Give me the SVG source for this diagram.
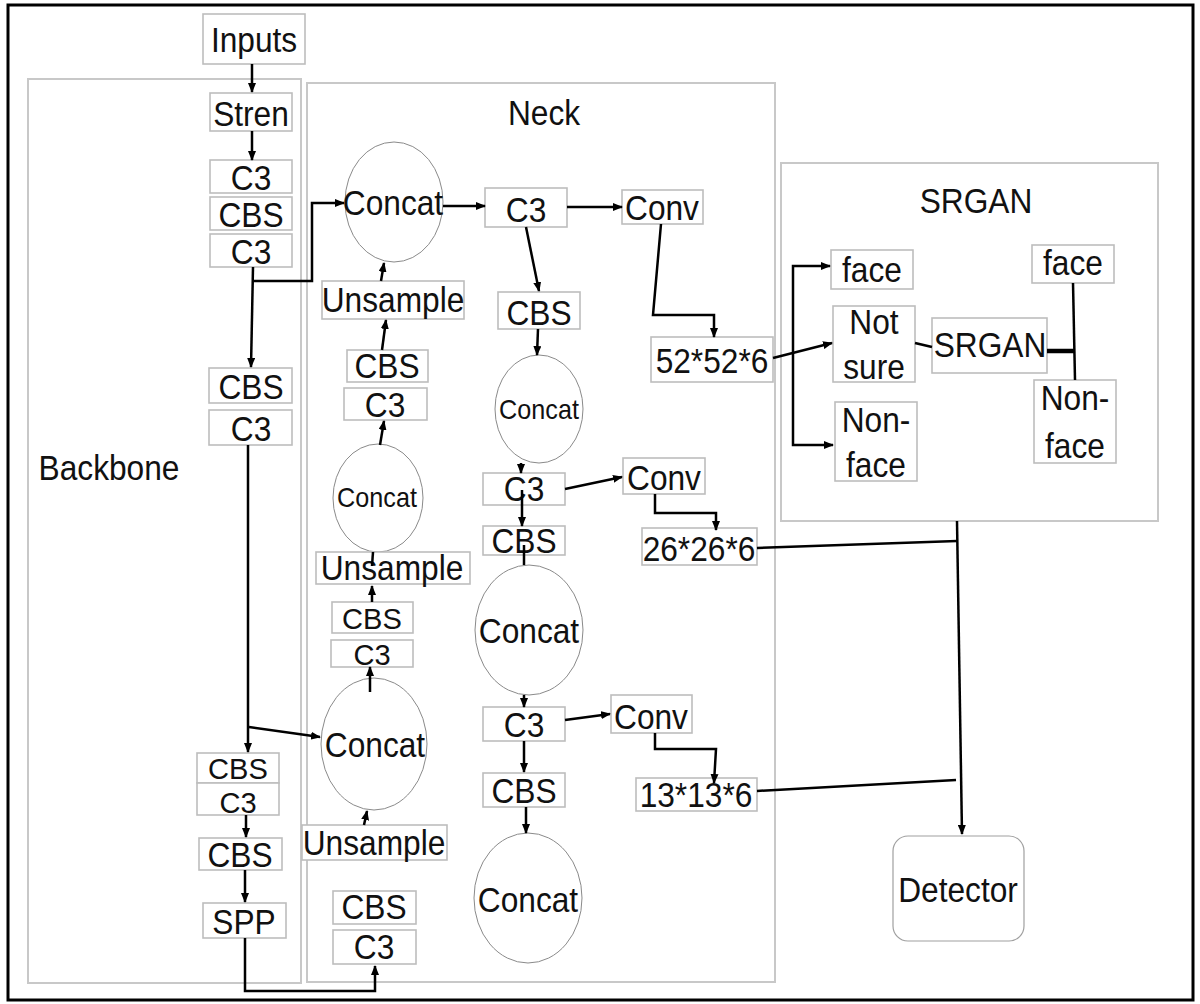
<svg xmlns="http://www.w3.org/2000/svg" width="1200" height="1004" viewBox="0 0 1200 1004">
<style>
  .bg{fill:#ffffff}
  .frame{fill:none;stroke:#000;stroke-width:3}
  .panel{fill:#fff;stroke:#c8c8c8;stroke-width:2}
  .box{fill:#fff;stroke:#bdbdbd;stroke-width:1.6}
  .ell{fill:#fff;stroke:#8a8a8a;stroke-width:1}
  .det{fill:#fff;stroke:#a0a0a0;stroke-width:1.2}
  .t{font-family:"Liberation Sans",Arial,sans-serif;font-size:36px;fill:#111;text-anchor:middle}
  .tm{font-family:"Liberation Sans",Arial,sans-serif;font-size:30px;fill:#111;text-anchor:middle}
  .ts{font-family:"Liberation Sans",Arial,sans-serif;font-size:28px;fill:#111;text-anchor:middle}
  .c{fill:none;stroke:#000;stroke-width:2.5}
  .ca{fill:none;stroke:#000;stroke-width:2.5;marker-end:url(#ah)}
</style>
<defs>
  <marker id="ah" markerWidth="10" markerHeight="8" refX="9" refY="4" orient="auto" markerUnits="userSpaceOnUse">
    <path d="M0,0 L10,4 L0,8 z" fill="#000"/>
  </marker>
</defs>
<rect class="bg" x="0" y="0" width="1200" height="1004"/>
<rect class="frame" x="8" y="5" width="1185" height="995"/>

<g id="backbone-panel"><rect class="panel" x="28" y="79" width="273" height="904"/>
  <text class="t" transform="translate(109,480) scale(0.88,1)">Backbone</text></g>
<g id="neck-panel"><rect class="panel" x="307" y="83" width="468" height="899"/>
  <text class="t" transform="translate(544,125) scale(0.88,1)">Neck</text></g>
<g id="srgan-panel"><rect class="panel" x="781" y="163" width="377" height="358"/>
  <text class="t" transform="translate(976,213) scale(0.88,1)">SRGAN</text></g>

<!-- Backbone nodes -->
<g id="inputs"><rect class="box" x="203" y="14" width="102" height="50"/><text class="t" transform="translate(254,52) scale(0.88,1)">Inputs</text></g>
<g id="stren"><rect class="box" x="210" y="93" width="82" height="38"/><text class="t" transform="translate(251,126) scale(0.88,1)">Stren</text></g>
<g id="bb-c3-1"><rect class="box" x="210" y="160" width="82" height="33"/><text class="t" transform="translate(251,190) scale(0.88,1)">C3</text></g>
<g id="bb-cbs-1"><rect class="box" x="210" y="197" width="82" height="33"/><text class="t" transform="translate(251,227) scale(0.88,1)">CBS</text></g>
<g id="bb-c3-2"><rect class="box" x="210" y="234" width="82" height="33"/><text class="t" transform="translate(251,264) scale(0.88,1)">C3</text></g>
<g id="bb-cbs-2"><rect class="box" x="209" y="368" width="83" height="35"/><text class="t" transform="translate(251,399) scale(0.88,1)">CBS</text></g>
<g id="bb-c3-3"><rect class="box" x="209" y="410" width="83" height="35"/><text class="t" transform="translate(251,441) scale(0.88,1)">C3</text></g>
<g id="bb-cbs-3"><rect class="box" x="197" y="753" width="82" height="30"/><text class="tm" transform="translate(238,779) scale(0.97,1)">CBS</text></g>
<g id="bb-c3-4"><rect class="box" x="197" y="783" width="82" height="32"/><text class="tm" transform="translate(238,813) scale(0.97,1)">C3</text></g>
<g id="bb-cbs-4"><rect class="box" x="199" y="838" width="83" height="32"/><text class="t" transform="translate(240,867) scale(0.88,1)">CBS</text></g>
<g id="spp"><rect class="box" x="203" y="903" width="83" height="35"/><text class="t" transform="translate(244,934) scale(0.88,1)">SPP</text></g>

<!-- Neck left column -->
<g id="concat-a"><ellipse class="ell" cx="394" cy="202" rx="49" ry="60"/><text class="t" transform="translate(393,215) scale(0.88,1)">Concat</text></g>
<g id="unsample-a"><rect class="box" x="322" y="281" width="142" height="38"/><text class="t" transform="translate(393,312) scale(0.88,1)">Unsample</text></g>
<g id="nk-cbs-f"><rect class="box" x="347" y="350" width="81" height="32"/><text class="t" transform="translate(387,378) scale(0.88,1)">CBS</text></g>
<g id="nk-c3-f"><rect class="box" x="344" y="388" width="83" height="32"/><text class="t" transform="translate(385,417) scale(0.88,1)">C3</text></g>
<g id="concat-b"><ellipse class="ell" cx="378" cy="498" rx="45" ry="54"/><text class="ts" transform="translate(377,507) scale(0.9,1)">Concat</text></g>
<g id="unsample-b"><rect class="box" x="316" y="552" width="154" height="32"/><text class="t" transform="translate(392,580) scale(0.88,1)">Unsample</text></g>
<g id="nk-cbs-g"><rect class="box" x="332" y="602" width="81" height="31"/><text class="tm" transform="translate(372,629) scale(0.97,1)">CBS</text></g>
<g id="nk-c3-g"><rect class="box" x="331" y="640" width="82" height="27"/><text class="tm" transform="translate(372,665) scale(0.97,1)">C3</text></g>
<g id="concat-c"><ellipse class="ell" cx="374" cy="744" rx="53" ry="66"/><text class="t" transform="translate(375,757) scale(0.88,1)">Concat</text></g>
<g id="unsample-c"><rect class="box" x="302" y="825" width="145" height="35"/><text class="t" transform="translate(374,855) scale(0.88,1)">Unsample</text></g>
<g id="nk-cbs-h"><rect class="box" x="333" y="891" width="83" height="33"/><text class="t" transform="translate(374,919) scale(0.88,1)">CBS</text></g>
<g id="nk-c3-h"><rect class="box" x="333" y="930" width="83" height="34"/><text class="t" transform="translate(374,959) scale(0.88,1)">C3</text></g>

<!-- Neck middle column -->
<g id="nk-c3-e"><rect class="box" x="485" y="188" width="82" height="39"/><text class="t" transform="translate(526,222) scale(0.88,1)">C3</text></g>
<g id="nk-cbs-e"><rect class="box" x="498" y="292" width="82" height="37"/><text class="t" transform="translate(539,325) scale(0.88,1)">CBS</text></g>
<g id="concat-d"><ellipse class="ell" cx="539" cy="409" rx="44" ry="54"/><text class="ts" transform="translate(539,419) scale(0.9,1)">Concat</text></g>
<g id="nk-c3-i"><rect class="box" x="483" y="473" width="82" height="32"/><text class="t" transform="translate(524,501) scale(0.88,1)">C3</text></g>
<g id="nk-cbs-i"><rect class="box" x="483" y="526" width="82" height="29"/><text class="t" transform="translate(524,553) scale(0.88,1)">CBS</text></g>
<g id="concat-e"><ellipse class="ell" cx="529" cy="630" rx="54" ry="65"/><text class="t" transform="translate(529,643) scale(0.88,1)">Concat</text></g>
<g id="nk-c3-j"><rect class="box" x="483" y="707" width="82" height="34"/><text class="t" transform="translate(524,737) scale(0.88,1)">C3</text></g>
<g id="nk-cbs-j"><rect class="box" x="483" y="773" width="82" height="34"/><text class="t" transform="translate(524,803) scale(0.88,1)">CBS</text></g>
<g id="concat-f"><ellipse class="ell" cx="528" cy="898" rx="54" ry="65"/><text class="t" transform="translate(528,912) scale(0.88,1)">Concat</text></g>

<!-- Heads -->
<g id="conv-a"><rect class="box" x="622" y="190" width="81" height="34"/><text class="t" transform="translate(662,220) scale(0.88,1)">Conv</text></g>
<g id="conv-b"><rect class="box" x="623" y="458" width="82" height="36"/><text class="t" transform="translate(664,490) scale(0.88,1)">Conv</text></g>
<g id="conv-c"><rect class="box" x="611" y="695" width="81" height="38"/><text class="t" transform="translate(651,729) scale(0.88,1)">Conv</text></g>
<g id="out-52"><rect class="box" x="651" y="337" width="122" height="45"/><text class="t" transform="translate(712,373) scale(0.88,1)">52*52*6</text></g>
<g id="out-26"><rect class="box" x="642" y="528" width="115" height="37"/><text class="t" transform="translate(699,561) scale(0.88,1)">26*26*6</text></g>
<g id="out-13"><rect class="box" x="636" y="778" width="121" height="33"/><text class="t" transform="translate(696,807) scale(0.88,1)">13*13*6</text></g>

<!-- SRGAN panel nodes -->
<g id="face-1"><rect class="box" x="831" y="250" width="82" height="39"/><text class="t" transform="translate(872,282) scale(0.88,1)">face</text></g>
<g id="not-sure"><rect class="box" x="833" y="306" width="82" height="76"/><text class="t" transform="translate(874,334) scale(0.88,1)">Not</text><text class="t" transform="translate(874,379) scale(0.88,1)">sure</text></g>
<g id="non-face-1"><rect class="box" x="835" y="402" width="82" height="79"/><text class="t" transform="translate(876,432) scale(0.88,1)">Non-</text><text class="t" transform="translate(876,477) scale(0.88,1)">face</text></g>
<g id="srgan-box"><rect class="box" x="932" y="318" width="115" height="55"/><text class="t" transform="translate(990,357) scale(0.88,1)">SRGAN</text></g>
<g id="face-2"><rect class="box" x="1032" y="245" width="82" height="38"/><text class="t" transform="translate(1073,275) scale(0.88,1)">face</text></g>
<g id="non-face-2"><rect class="box" x="1034" y="380" width="82" height="83"/><text class="t" transform="translate(1075,410) scale(0.88,1)">Non-</text><text class="t" transform="translate(1075,458) scale(0.88,1)">face</text></g>

<g id="detector"><rect class="det" x="893" y="836" width="131" height="105" rx="15" ry="15"/><text class="t" transform="translate(958,902) scale(0.88,1)">Detector</text></g>

<g id="connectors">
  <path class="ca" d="M252,64 V92"/>
  <path class="ca" d="M252,131 V160"/>
  <path class="ca" d="M253,267 L251,367"/>
  <path class="ca" d="M253,281 H312 V203 H344"/>
  <path class="ca" d="M443,206 H485"/>
  <path class="ca" d="M567,207 H622"/>
  <path class="ca" d="M526,227 L539,291"/>
  <path class="ca" d="M538,329 L537,355"/>
  <path class="ca" d="M521,463 V473"/>
  <path class="ca" d="M522,490 V526"/>
  <path class="c" d="M524,545 V565"/>
  <path class="ca" d="M524,695 V707"/>
  <path class="ca" d="M524,741 V772"/>
  <path class="ca" d="M526,807 V833"/>
  <path class="ca" d="M565,489 L622,477"/>
  <path class="ca" d="M565,720 L610,714"/>
  <path class="ca" d="M661,224 L653,315 H714 V337"/>
  <path class="ca" d="M655,494 V513 H716 V530"/>
  <path class="ca" d="M655,733 V749 H716 L714,783"/>
  <path class="ca" d="M773,358 L832,343"/>
  <path class="ca" d="M793,356 V266 H830"/>
  <path class="ca" d="M793,356 V445 H833"/>
  <path class="c" d="M915,343 L932,347"/>
  <path class="c" d="M1047,351 H1074" style="stroke-width:4.5"/>
  <path class="c" d="M1073,283 L1075,380"/>
  <path class="ca" d="M957,521 L962,834"/>
  <path class="c" d="M757,548 L957,541"/>
  <path class="c" d="M757,791 L956,780"/>
  <path class="ca" d="M248,445 V752"/>
  <path class="ca" d="M249,727 L320,737"/>
  <path class="ca" d="M246,815 V837"/>
  <path class="ca" d="M245,870 V902"/>
  <path class="ca" d="M245,938 V991 H375 V966"/>
  <path class="ca" d="M381,281 L384,263"/>
  <path class="ca" d="M382,350 L386,320"/>
  <path class="ca" d="M380,445 L384,421"/>
  <path class="c" d="M373,552 L372,566"/>
  <path class="ca" d="M372,602 V586"/>
  <path class="ca" d="M370,692 V667"/>
  <path class="ca" d="M364,825 L367,811"/>
</g>
</svg>
